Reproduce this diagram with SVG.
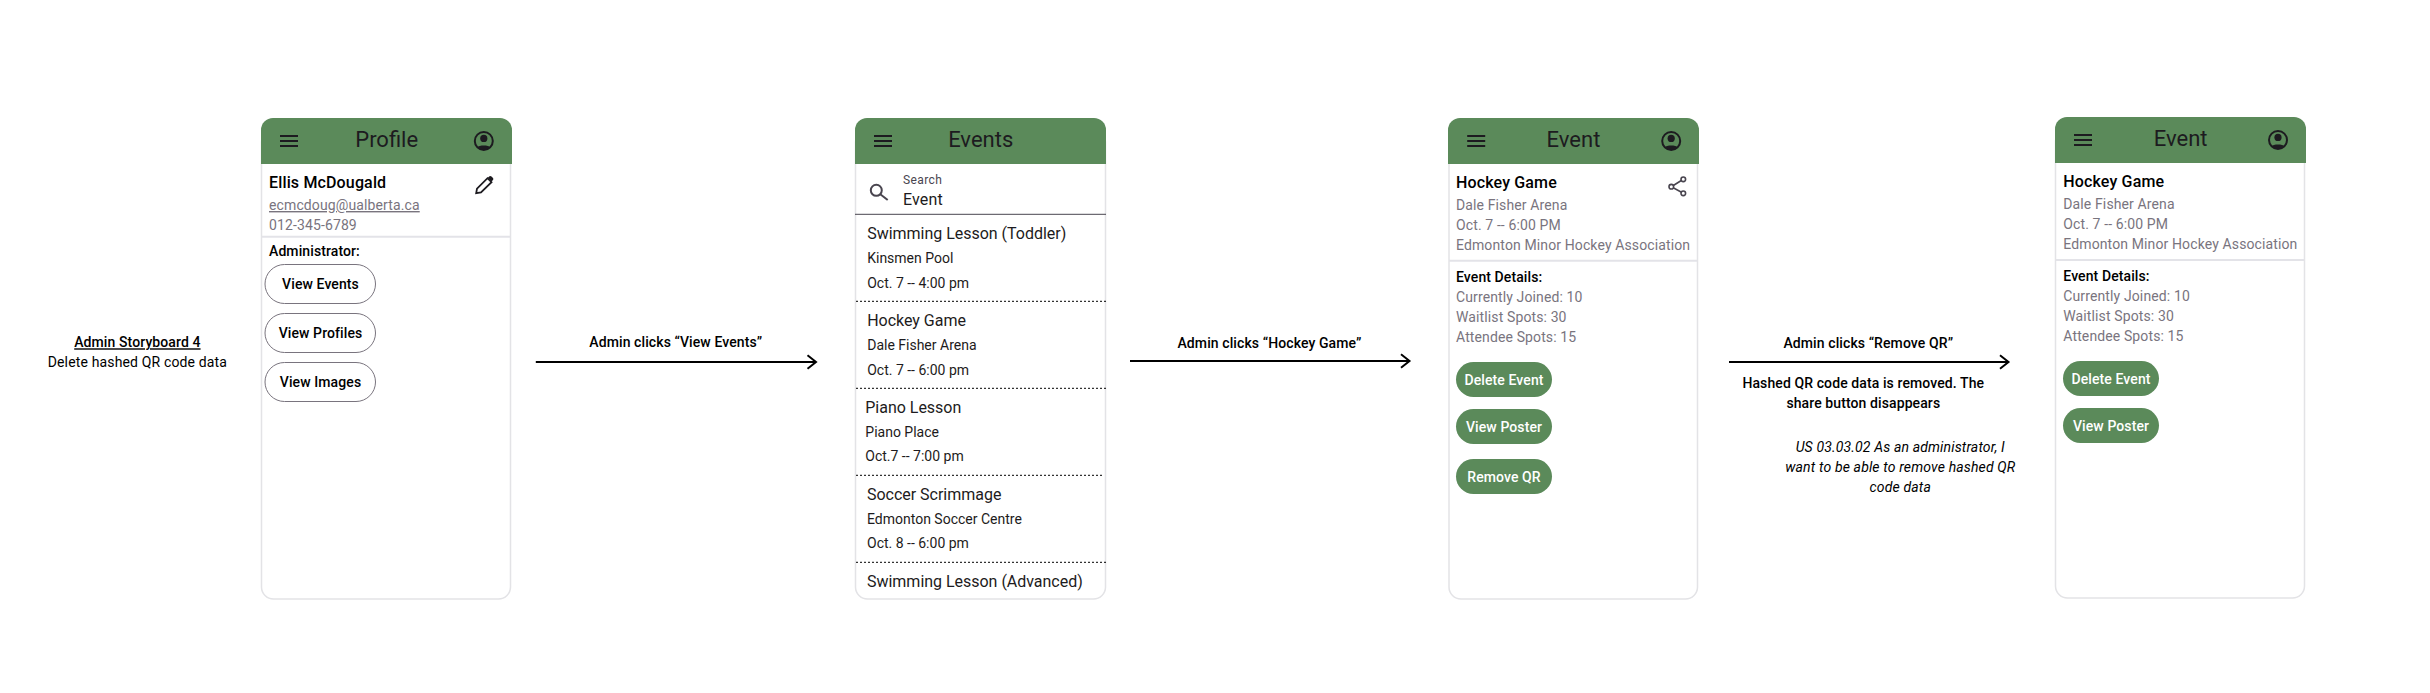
<svg xmlns="http://www.w3.org/2000/svg" width="2430" height="693" viewBox="0 0 2430 693">
<style>
text{font-family:Roboto,"Liberation Sans",sans-serif;fill:#000}
.title{font-size:22px;fill:#1d1b20;text-anchor:middle}
.name{font-size:16px;font-weight:500;letter-spacing:.15px}
.sub{font-size:14px;fill:#79747e;letter-spacing:.12px}
.lab{font-size:14px;font-weight:500;letter-spacing:.1px}
.ctr{text-anchor:middle}
.body{font-size:14px;letter-spacing:.15px}
.it{font-size:16px;letter-spacing:-.02px;fill:#1d1b20}
.ev{font-size:14px;letter-spacing:0;fill:#1d1b20}
.btn{font-size:14px;font-weight:500;letter-spacing:.1px;fill:#fff;text-anchor:middle}
.obtn{fill:#fff;stroke:#79747e;stroke-width:1}
.fbtn{fill:#5b8a5a}
.card{fill:#fff;stroke:#e3e3e6;stroke-width:1.5}
.hdr{fill:#5b8a5a}
.div{stroke:#e3e3e8;stroke-width:2}
.dash{stroke:#000;stroke-width:1;stroke-dasharray:2 2}
.conn{fill:none;stroke:#000;stroke-width:2}
</style>
<defs>
<g id="ham"><path d="M0 1H18M0 6H18M0 11H18" fill="none" stroke="#1d1b20" stroke-width="1.8"/></g>
<g id="user"><circle r="9" fill="none" stroke="#1d1b20" stroke-width="2"/><circle cy="-2.6" r="3.6" fill="#1d1b20"/><path d="M-6.8 6.2C-4.5 3.8 4.5 3.800 6.800 6.200A10 10 0 0 1-6.800 6.200Z" fill="#1d1b20"/></g>
</defs>
<rect width="2430" height="693" fill="#fff"/>

<g id="intro">
<text class="lab ctr" x="137.4" y="347.3" text-decoration="underline">Admin Storyboard 4</text>
<text class="body ctr" x="137.4" y="367.3">Delete hashed QR code data</text>
</g>

<g id="screen-profile">
<rect class="card" x="261.5" y="130" width="249" height="469" rx="12"/>
<path class="hdr" d="M261 164V130a12 12 0 0 1 12-12H500a12 12 0 0 1 12 12V164Z"/>
<use href="#ham" x="280" y="135"/>
<text class="title" x="386.7" y="147">Profile</text>
<use href="#user" x="483.8" y="141"/>
<text class="name" x="269" y="188">Ellis McDougald</text>
<path d="M476.200 193.200L477 188.700L487.500 178.200L491.500 182.200L481 192.500Z" fill="none" stroke="#1d1b20" stroke-width="1.800"/>
<path d="M487.800 177.800L489.500 176.200Q490.500 175.600 491.500 176.400L493 178Q493.700 179 493 180L491.300 181.700Z" fill="#1d1b20"/>
<text class="sub" x="269" y="210" text-decoration="underline">ecmcdoug@ualberta.ca</text>
<text class="sub" x="269" y="230">012-345-6789</text>
<line class="div" x1="262" y1="236.700" x2="510" y2="236.700"/>
<text class="lab" x="269" y="256">Administrator:</text>
<rect class="obtn" x="265" y="264.500" width="110.500" height="39" rx="19.500"/>
<text class="lab ctr" x="320.500" y="289.300">View Events</text>
<rect class="obtn" x="265" y="313.500" width="110.500" height="39" rx="19.500"/>
<text class="lab ctr" x="320.500" y="338.300">View Profiles</text>
<rect class="obtn" x="265" y="362.500" width="110.500" height="39" rx="19.500"/>
<text class="lab ctr" x="320.500" y="387.300">View Images</text>
</g>

<g id="screen-events">
<rect class="card" x="855.500" y="130" width="250" height="469" rx="12"/>
<path class="hdr" d="M855 164V130a12 12 0 0 1 12-12H1094a12 12 0 0 1 12 12V164Z"/>
<use href="#ham" x="874" y="135"/>
<text class="title" x="980.700" y="147">Events</text>
<circle cx="876.300" cy="190.300" r="5.500" fill="none" stroke="#49454f" stroke-width="2"/>
<line x1="880.300" y1="194.300" x2="887.700" y2="200" stroke="#49454f" stroke-width="2"/>
<text x="903" y="184" font-size="12" letter-spacing=".4" style="fill:#49454f">Search</text>
<text x="903" y="205" font-size="16" style="fill:#1d1b20" letter-spacing=".15">Event</text>
<line x1="855" y1="214.300" x2="1106" y2="214.300" stroke="#49454f" stroke-width="1"/>
<text class="it" x="867.200" y="238.700">Swimming Lesson (Toddler)</text>
<text class="ev" x="867.200" y="263.300">Kinsmen Pool</text>
<text class="ev" x="867.200" y="287.700">Oct. 7 -- 4:00 pm</text>
<line class="dash" x1="856" y1="301.300" x2="1106" y2="301.300"/>
<text class="it" x="867.200" y="325.700">Hockey Game</text>
<text class="ev" x="867.200" y="350.300">Dale Fisher Arena</text>
<text class="ev" x="867.200" y="374.700">Oct. 7 -- 6:00 pm</text>
<line class="dash" x1="856" y1="388.300" x2="1106" y2="388.300"/>
<text class="it" x="865.300" y="413">Piano Lesson</text>
<text class="ev" x="865.300" y="437.300">Piano Place</text>
<text class="ev" x="865.300" y="461.300">Oct.7 -- 7:00 pm</text>
<line class="dash" x1="856" y1="475.300" x2="1104" y2="475.300"/>
<text class="it" x="867" y="500">Soccer Scrimmage</text>
<text class="ev" x="867" y="524">Edmonton Soccer Centre</text>
<text class="ev" x="867" y="548.300">Oct. 8 -- 6:00 pm</text>
<line class="dash" x1="856" y1="562.300" x2="1106" y2="562.300"/>
<text class="it" x="867" y="587">Swimming Lesson (Advanced)</text>
</g>

<g id="screen-event">
<rect class="card" x="1449" y="130" width="248.500" height="469" rx="12"/>
<path class="hdr" d="M1448 164V130a12 12 0 0 1 12-12H1687a12 12 0 0 1 12 12V164Z"/>
<use href="#ham" x="1467.200" y="135"/>
<text class="title" x="1573.500" y="147">Event</text>
<use href="#user" x="1671.200" y="141"/>
<text class="name" x="1456" y="188">Hockey Game</text>
<g fill="none" stroke="#49454f" stroke-width="1.600"><path d="M1683.300 179.300L1671.300 186.700L1683.300 193.300"/><circle cx="1683.300" cy="179.300" r="2.300" fill="#fff"/><circle cx="1671.300" cy="186.700" r="2.300" fill="#fff"/><circle cx="1683.300" cy="193.300" r="2.300" fill="#fff"/></g>
<text class="sub" x="1456" y="210.300">Dale Fisher Arena</text>
<text class="sub" x="1456" y="230.300">Oct. 7 -- 6:00 PM</text>
<text class="sub" x="1456" y="250.300">Edmonton Minor Hockey Association</text>
<line class="div" x1="1449" y1="260.700" x2="1697" y2="260.700"/>
<text class="lab" x="1456" y="282.300">Event Details:</text>
<text class="sub" x="1456" y="302.300">Currently Joined: 10</text>
<text class="sub" x="1456" y="322.300">Waitlist Spots: 30</text>
<text class="sub" x="1456" y="342.300">Attendee Spots: 15</text>
<rect class="fbtn" x="1456" y="362" width="96" height="35" rx="17.500"/>
<text class="btn" x="1504" y="384.700">Delete Event</text>
<rect class="fbtn" x="1456" y="409" width="96" height="35" rx="17.500"/>
<text class="btn" x="1504" y="431.700">View Poster</text>
<rect class="fbtn" x="1456" y="459" width="96" height="35" rx="17.500"/>
<text class="btn" x="1504" y="481.700">Remove QR</text>
</g>

<g id="screen-event-after">
<rect class="card" x="2055.500" y="129" width="249" height="469" rx="12"/>
<path class="hdr" d="M2055 163V129a12 12 0 0 1 12-12H2294a12 12 0 0 1 12 12V163Z"/>
<use href="#ham" x="2074" y="134"/>
<text class="title" x="2180.700" y="146">Event</text>
<use href="#user" x="2278" y="140"/>
<text class="name" x="2063.300" y="187.300">Hockey Game</text>
<text class="sub" x="2063.300" y="209.300">Dale Fisher Arena</text>
<text class="sub" x="2063.300" y="229.300">Oct. 7 -- 6:00 PM</text>
<text class="sub" x="2063.300" y="249.300">Edmonton Minor Hockey Association</text>
<line class="div" x1="2056" y1="260" x2="2304" y2="260"/>
<text class="lab" x="2063.300" y="281.300">Event Details:</text>
<text class="sub" x="2063.300" y="301.300">Currently Joined: 10</text>
<text class="sub" x="2063.300" y="321.300">Waitlist Spots: 30</text>
<text class="sub" x="2063.300" y="341.300">Attendee Spots: 15</text>
<rect class="fbtn" x="2063" y="361" width="96" height="35" rx="17.500"/>
<text class="btn" x="2111" y="383.700">Delete Event</text>
<rect class="fbtn" x="2063" y="408" width="96" height="35" rx="17.500"/>
<text class="btn" x="2111" y="430.700">View Poster</text>
</g>

<g id="connectors">
<path class="conn" d="M535.800 362H816M807.500 355.300L816 362L807.500 368.700"/>
<path class="conn" d="M1130 361H1409.500M1401 354.300L1409.500 361L1401 367.700"/>
<path class="conn" d="M1729 362H2008.500M2000 355.300L2008.500 362L2000 368.700"/>
</g>

<g id="labels">
<text class="lab ctr" x="675.800" y="347.300">Admin clicks “View Events”</text>
<text class="lab ctr" x="1269.500" y="348.300">Admin clicks “Hockey Game”</text>
<text class="lab ctr" x="1868.300" y="348.300">Admin clicks “Remove QR”</text>
<text class="lab ctr" x="1863.300" y="388">Hashed QR code data is removed. The</text>
<text class="lab ctr" x="1863.300" y="408.300">share button disappears</text>
<text class="body ctr" x="1900.300" y="452.300" font-style="italic">US 03.03.02 As an administrator, I</text>
<text class="body ctr" x="1900.300" y="472.300" font-style="italic">want to be able to remove hashed QR</text>
<text class="body ctr" x="1900.300" y="492" font-style="italic">code data</text>
</g>
</svg>
